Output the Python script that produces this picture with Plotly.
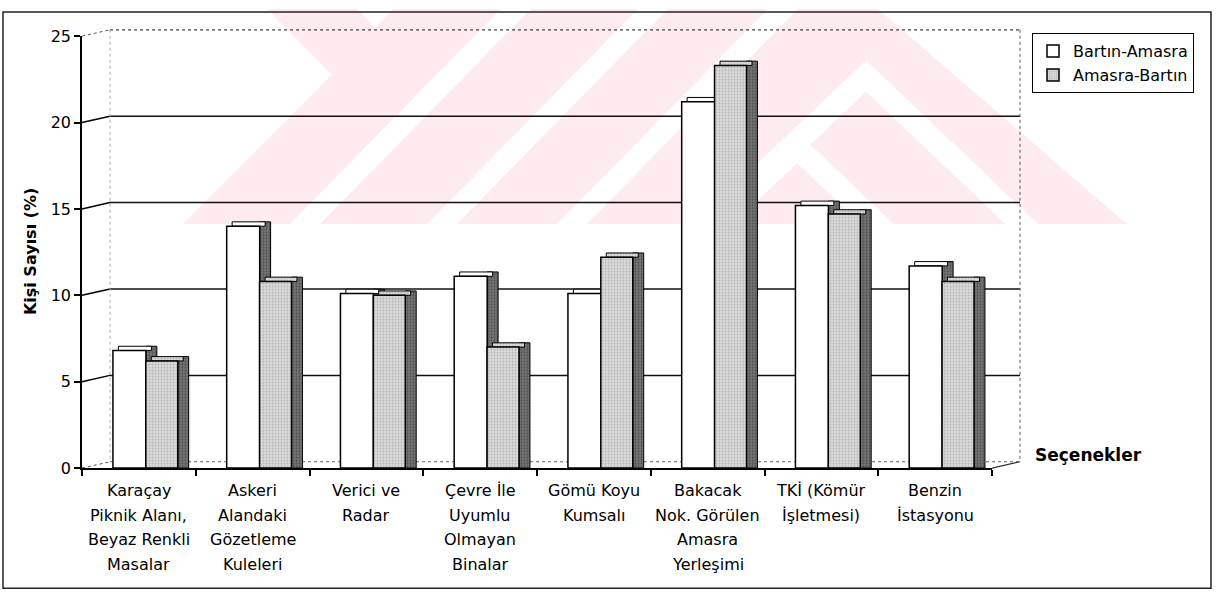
import plotly.graph_objects as go

# ---------------- data ----------------
categories = [
    "Karaçay\nPiknik Alanı,\nBeyaz Renkli\nMasalar",
    "Askeri\nAlandaki\nGözetleme\nKuleleri",
    "Verici ve\nRadar",
    "Çevre İle\nUyumlu\nOlmayan\nBinalar",
    "Gömü Koyu\nKumsalı",
    "Bakacak\nNok. Görülen\nAmasra\nYerleşimi",
    "TKİ (Kömür\nİşletmesi)",
    "Benzin\nİstasyonu",
]
bartin_amasra = [6.8, 14.0, 10.1, 11.1, 10.1, 21.2, 15.2, 11.7]
amasra_bartin = [6.2, 10.8, 10.0, 7.0, 12.2, 23.3, 14.7, 10.8]
series_names = ["Bartın-Amasra", "Amasra-Bartın"]
y_ticks = [0, 5, 10, 15, 20, 25]
y_title = "Kişi Sayısı (%)"
x_title = "Seçenekler"

# ---------------- geometry helpers ----------------
W, H = 1220, 603
FONT = "DejaVu Sans"


def px(x):
    return x / W


def py(y):
    return 1 - y / H


# front (axis) plane and back wall plane, in pixels
FX0, FX1, FY0, FY25 = 82, 992, 474, 28
BX0, BX1, BY0, BY25 = 110, 1020, 467.5, 21.5
YMAX = 25

# 3-D look of the columns (in category / value units)
DEPTH_W = 0.096
DEPTH_H = 0.25
W1, OFF1 = 0.29, -0.228
W2, OFF2 = 0.281, 0.061

cat_ids = [c.replace("\n", " ") for c in categories]

fig = go.Figure()

# dummy trace so that the back-wall subplot is always created
fig.add_trace(go.Scatter(x=[None], y=[None], xaxis="x", yaxis="y",
                         showlegend=False, hoverinfo="skip"))

side_style = dict(color="#6e6e6e",
                  pattern=dict(shape=".", fgcolor="#2a2a2a", bgcolor="#7a7a7a",
                               size=3, solidity=0.45, fillmode="overlay"),
                  line=dict(color="black", width=1))
gray_style = dict(color="#d6d6d6",
                  pattern=dict(shape=".", fgcolor="#8a8a8a", bgcolor="#dcdcdc",
                               size=3, solidity=0.35, fillmode="overlay"),
                  line=dict(color="black", width=1.5))
white_style = dict(color="white", line=dict(color="black", width=1.5))


def faces(values, width, offset, front_style, name, legend):
    # side face, top face, front face
    fig.add_trace(go.Bar(x=cat_ids, y=[v + DEPTH_H for v in values], width=DEPTH_W,
                         offset=offset + width, marker=side_style, showlegend=False,
                         hoverinfo="skip", xaxis="x2", yaxis="y2"))
    top_style = dict(front_style)
    top_style["line"] = dict(color="black", width=1)
    fig.add_trace(go.Bar(x=cat_ids, y=[DEPTH_H] * len(values), base=values, width=width,
                         offset=offset + DEPTH_W / 2, marker=top_style, showlegend=False,
                         hoverinfo="skip", xaxis="x2", yaxis="y2"))
    fig.add_trace(go.Bar(x=cat_ids, y=values, name=name, width=width, offset=offset,
                         marker=front_style, showlegend=legend, xaxis="x2", yaxis="y2"))


faces(bartin_amasra, W1, OFF1, white_style, series_names[0], True)
faces(amasra_bartin, W2, OFF2, gray_style, series_names[1], True)

# ---------------- shapes ----------------
shapes = []
PINK = "#fdebef"


def poly(points, color):
    d = "M " + " L ".join(f"{px(x):.5f},{py(y):.5f}" for x, y in points) + " Z"
    return dict(type="path", path=d, xref="paper", yref="paper", layer="below",
                fillcolor=color, line=dict(width=0))


# faint watermark in the background
WM_BOTTOM = 222
s = 1.02
shapes.append(poly([(267, 0), (878, 0), (878 + 1.12 * WM_BOTTOM, WM_BOTTOM),
                    (183, WM_BOTTOM), (332, 68)], PINK))
for xb in (290, 427, 557):
    w = 30
    shapes.append(poly([(xb, WM_BOTTOM), (xb + w, WM_BOTTOM),
                        (xb + w + 0.95 * WM_BOTTOM, 0), (xb + 0.95 * WM_BOTTOM, 0)], "white"))
shapes.append(poly([(357, 0), (393, 0), (375, 20)], "white"))
for ax, ay in ((797, 127), (866, 53)):
    w = 33
    d = WM_BOTTOM - ay
    shapes.append(poly([(ax, ay), (ax + s * d, WM_BOTTOM), (ax + s * d - w, WM_BOTTOM),
                        (ax, ay + w / s), (ax - s * d + w, WM_BOTTOM), (ax - s * d, WM_BOTTOM)],
                       "white"))


def line(x0, y0, x1, y1, color="black", width=1.5, dash="solid"):
    return dict(type="line", xref="paper", yref="paper", layer="below",
                x0=px(x0), y0=py(y0), x1=px(x1), y1=py(y1),
                line=dict(color=color, width=width, dash=dash))


# connectors from the front axis to the back wall
for v in y_ticks:
    yf = FY0 - (FY0 - FY25) * v / YMAX
    yb = BY0 - (BY0 - BY25) * v / YMAX
    if v in (0, YMAX):
        shapes.append(line(FX0, yf, BX0, yb, color="#555", width=1, dash="dot"))
    else:
        shapes.append(line(FX0, yf, BX0, yb))

# back wall gridlines (on the back-wall axes)
for v in y_ticks[1:-1]:
    shapes.append(dict(type="line", xref="x domain", yref="y", layer="below",
                       x0=0, x1=1, y0=v, y1=v, line=dict(color="#111", width=1.5)))

# back wall frame and floor
shapes.append(line(BX0, BY25, BX1, BY25, color="#444", width=1.2, dash="dot"))
shapes.append(line(BX1, BY25, BX1, BY0, color="#555", width=1, dash="dot"))
shapes.append(line(BX0, BY25, BX0, BY0, color="#aaa", width=1, dash="dot"))
shapes.append(line(BX0, BY0, BX1, BY0, color="#666", width=1, dash="dot"))
shapes.append(line(FX1, FY0, BX1, BY0, color="#333", width=1.2))

# outer chart border
shapes.append(dict(type="rect", xref="paper", yref="paper", layer="above",
                   x0=px(3), y0=py(598), x1=px(1211), y1=py(3),
                   line=dict(color="#222", width=1.5)))

# ---------------- annotations ----------------
annotations = []
LINE_GAP = 25.5
for i, cat in enumerate(categories):
    for j, part in enumerate(cat.split("\n")):
        annotations.append(dict(x=cat_ids[i], xref="x2", y=py(497 + LINE_GAP * j), yref="paper",
                                text=part, showarrow=False, xanchor="center", yanchor="middle",
                                font=dict(family=FONT, size=16, color="black")))
annotations.append(dict(x=px(30), y=py(251), xref="paper", yref="paper", text=f"<b>{y_title}</b>",
                        textangle=-90, showarrow=False, xanchor="center", yanchor="middle",
                        font=dict(family=FONT, size=16, color="black")))
annotations.append(dict(x=px(1033), y=py(460), xref="paper", yref="paper", text=f"<b>{x_title}</b>",
                        showarrow=False, xanchor="left", yanchor="middle",
                        font=dict(family=FONT, size=17, color="black")))

fig.update_layout(
    width=W, height=H,
    margin=dict(l=0, r=0, t=0, b=0),
    paper_bgcolor="white",
    plot_bgcolor="rgba(0,0,0,0)",
    barmode="overlay",
    font=dict(family=FONT, size=16, color="black"),
    # back wall
    xaxis=dict(domain=[px(BX0), px(BX1)], range=[-0.5, 7.5], showline=False, showgrid=False,
               showticklabels=False, ticks="", zeroline=False, fixedrange=True),
    yaxis=dict(domain=[py(BY0), py(BY25)], range=[0, YMAX], showgrid=False,
               showticklabels=False, ticks="", zeroline=False, showline=False, fixedrange=True),
    # front plane (axes + bars)
    xaxis2=dict(domain=[px(FX0), px(FX1)], anchor="y2", type="category",
                categoryorder="array", categoryarray=cat_ids, range=[-0.5, 7.5],
                showline=True, linecolor="black", linewidth=1.5,
                ticks="outside", tickson="boundaries", ticklen=6, tickcolor="black", tickwidth=1.5,
                showticklabels=False, showgrid=False, zeroline=False, fixedrange=True),
    yaxis2=dict(domain=[py(FY0), py(FY25)], anchor="x2", range=[0, YMAX], tickvals=y_ticks,
                ticks="outside", ticklen=6, tickcolor="black", tickwidth=1.5,
                showline=True, linecolor="black", linewidth=1.5,
                showgrid=False, zeroline=False, tickfont=dict(family=FONT, size=16),
                fixedrange=True),
    legend=dict(x=px(1032), y=py(25), xanchor="left", yanchor="top",
                bordercolor="black", borderwidth=1, bgcolor="white",
                font=dict(family=FONT, size=16), itemwidth=30, tracegroupgap=0),
    shapes=shapes,
    annotations=annotations,
    showlegend=True,
)

fig.write_html("out.html")
